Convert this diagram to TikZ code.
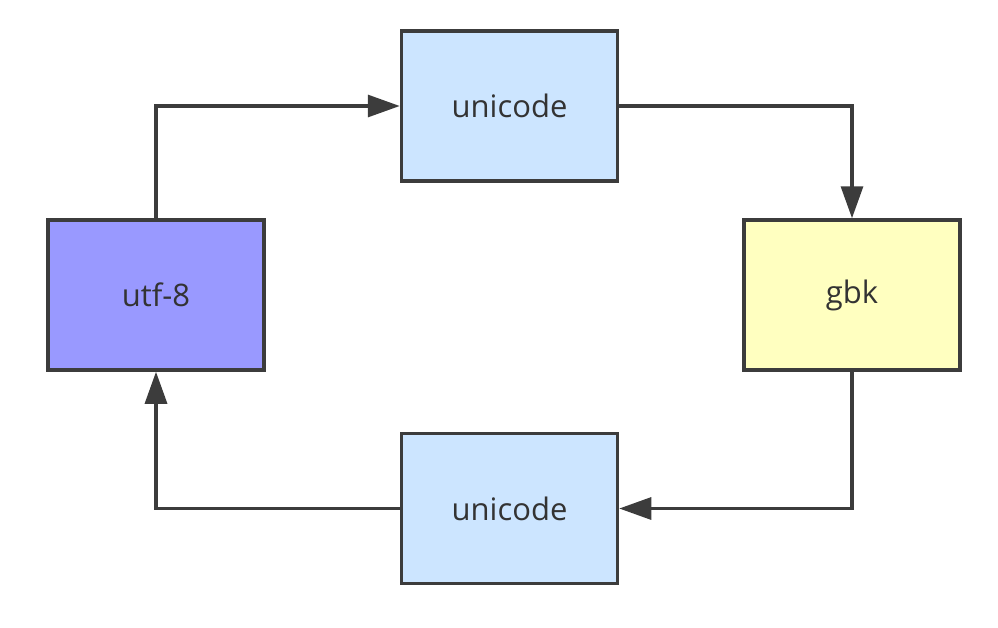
\documentclass[tikz,border=0pt]{standalone}
\usepackage{fontspec}
\setmainfont{Open Sans}
\usetikzlibrary{arrows.meta}
\definecolor{edgegray}{HTML}{3C3C3C}
\definecolor{txtgray}{HTML}{333333}
\definecolor{utfblue}{HTML}{9999FF}
\definecolor{uniblue}{HTML}{CCE5FF}
\definecolor{gbkyel}{HTML}{FFFFC0}
\tikzset{
  box/.style={draw=edgegray, line width=3.5pt, minimum width=216pt, minimum height=150pt,
    inner sep=0pt, text=txtgray, font=\fontsize{31}{36}\selectfont},
  conn/.style={draw=edgegray, line width=3.2pt, -{Triangle[length=32pt,width=22pt]}},
}
\begin{document}
\begin{tikzpicture}[x=1pt,y=-1pt]
\useasboundingbox (0,0) rectangle (998,627);
\node[box, fill=uniblue] (u1) at (509.5,106) {unicode};
\node[box, fill=utfblue] (utf) at (156,295) {utf-8};
\node[box, fill=gbkyel] (gbk) at (852,295) {gbk};
\node[box, fill=uniblue] (u2) at (509.5,508.5) {unicode};
\draw[conn] (utf.north) |- (u1.west);
\draw[conn] (u1.east) -| (gbk.north);
\draw[conn] (gbk.south) |- (u2.east);
\draw[conn] (u2.west) -| (utf.south);
\end{tikzpicture}
\end{document}
